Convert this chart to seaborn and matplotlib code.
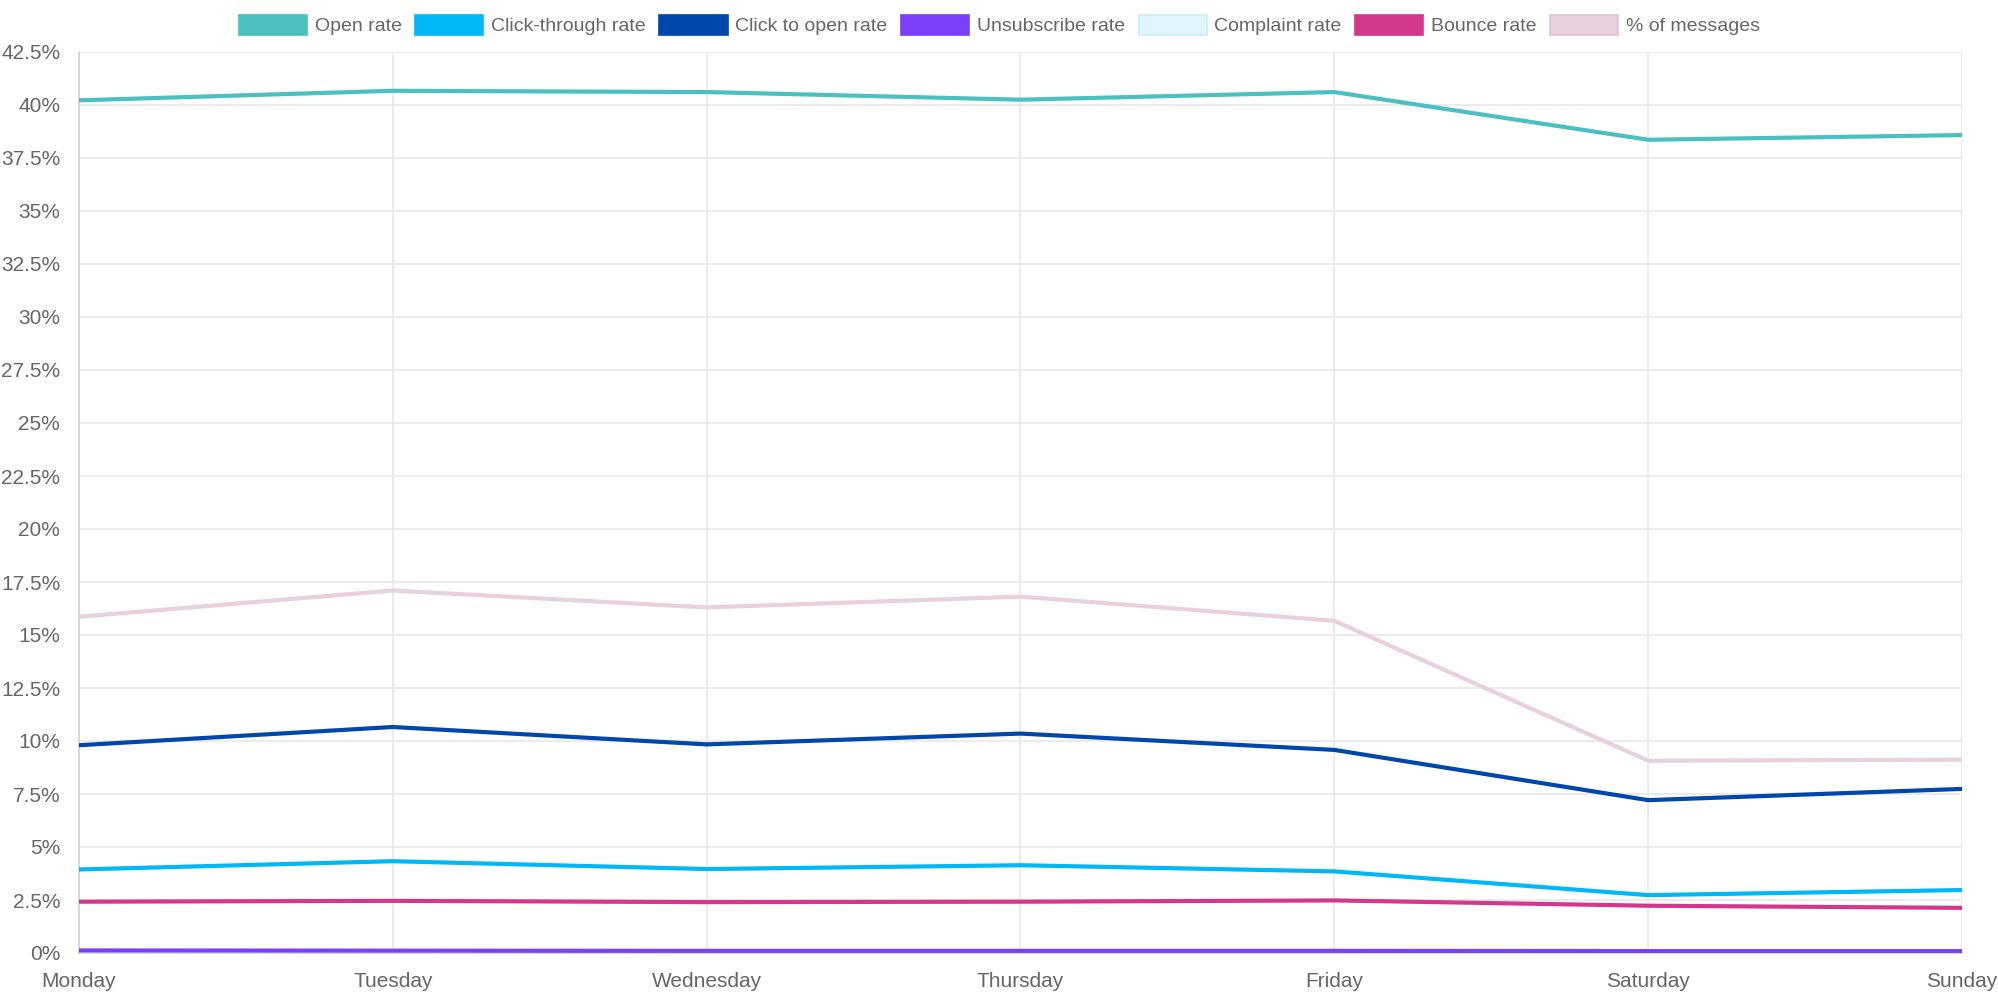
import matplotlib
matplotlib.use("Agg")
import matplotlib.pyplot as plt
from matplotlib.patches import Patch
from matplotlib.ticker import FuncFormatter, MultipleLocator
import seaborn as sns
import pandas as pd

days = ["Monday", "Tuesday", "Wednesday", "Thursday", "Friday", "Saturday", "Sunday"]

open_rate = [40.22, 40.67, 40.61, 40.25, 40.61, 38.36, 38.58]
click_through_rate = [3.94, 4.33, 3.96, 4.14, 3.85, 2.73, 2.97]
click_to_open_rate = [9.80, 10.66, 9.84, 10.35, 9.58, 7.21, 7.74]
unsubscribe_rate = [0.12, 0.11, 0.10, 0.10, 0.10, 0.09, 0.09]
complaint_rate = [0.0, 0.0, 0.0, 0.0, 0.0, 0.0, 0.0]
bounce_rate = [2.42, 2.46, 2.40, 2.42, 2.48, 2.23, 2.13]
pct_messages = [15.86, 17.10, 16.30, 16.81, 15.67, 9.07, 9.12]

series_names = ["Open rate", "Click-through rate", "Click to open rate",
                "Unsubscribe rate", "Complaint rate", "Bounce rate", "% of messages"]
series_values = [open_rate, click_through_rate, click_to_open_rate,
                 unsubscribe_rate, complaint_rate, bounce_rate, pct_messages]
colors = ["#4bc0c0", "#00b8f5", "#0047ab", "#7a3ff9", "#e0f5fd", "#d3388c", "#e8d0df"]
edge_colors = ["#4bc0c0", "#00b8f5", "#0047ab", "#7a3ff9", "#c8ecfb", "#d3388c", "#dcc4d4"]

rows = []
for name, vals in zip(series_names, series_values):
    for d, v in zip(days, vals):
        rows.append({"day": d, "value": v, "series": name})
df = pd.DataFrame(rows)

sns.set_theme(style="white")
plt.rcParams["font.family"] = ["Liberation Sans", "DejaVu Sans"]

fig = plt.figure(figsize=(19.99, 10), dpi=100)
ax = fig.add_axes([79 / 1999, 47 / 1000, (1962 - 79) / 1999, (953 - 52) / 1000])

# draw in reverse so the first series is on top (like Chart.js)
order = list(range(len(series_names)))[::-1]
for i in order:
    sub = df[df["series"] == series_names[i]]
    sns.lineplot(data=sub, x="day", y="value", ax=ax, color=colors[i],
                 linewidth=3.0, sort=False, legend=False, zorder=3 + (len(series_names) - i))

ax.set_xlim(0, 6)
ax.set_ylim(0, 42.5)
ax.yaxis.set_major_locator(MultipleLocator(2.5))
ax.yaxis.set_major_formatter(FuncFormatter(lambda v, p: f"{v:g}%"))
ax.set_xlabel("")
ax.set_ylabel("")

grid_c = "#e8e8e8"
ax.grid(True, color=grid_c, linewidth=1.2, zorder=0)
ax.set_axisbelow(True)
for s in ["top", "right"]:
    ax.spines[s].set_visible(False)
ax.spines["left"].set_color("#d2d2d2")
ax.spines["bottom"].set_color("#d2d2d2")
ax.spines["left"].set_linewidth(1.2)
ax.spines["bottom"].set_linewidth(1.2)

ax.tick_params(axis="both", which="major", length=8.5, width=1.2, color=grid_c,
               labelsize=15, labelcolor="#666666")
ax.tick_params(axis="y", pad=5)
ax.tick_params(axis="x", pad=5)

handles = [Patch(facecolor=c, edgecolor=e, linewidth=1.2, label=n)
           for n, c, e in zip(series_names, colors, edge_colors)]
fig.legend(handles=handles, loc="center", bbox_to_anchor=(0.5, 0.975), ncol=7,
           frameon=False, fontsize=14, handlelength=3.5, handleheight=1.2,
           handletextpad=0.4, columnspacing=0.7, labelcolor="#666666")

fig.savefig("out.png", dpi=100)
